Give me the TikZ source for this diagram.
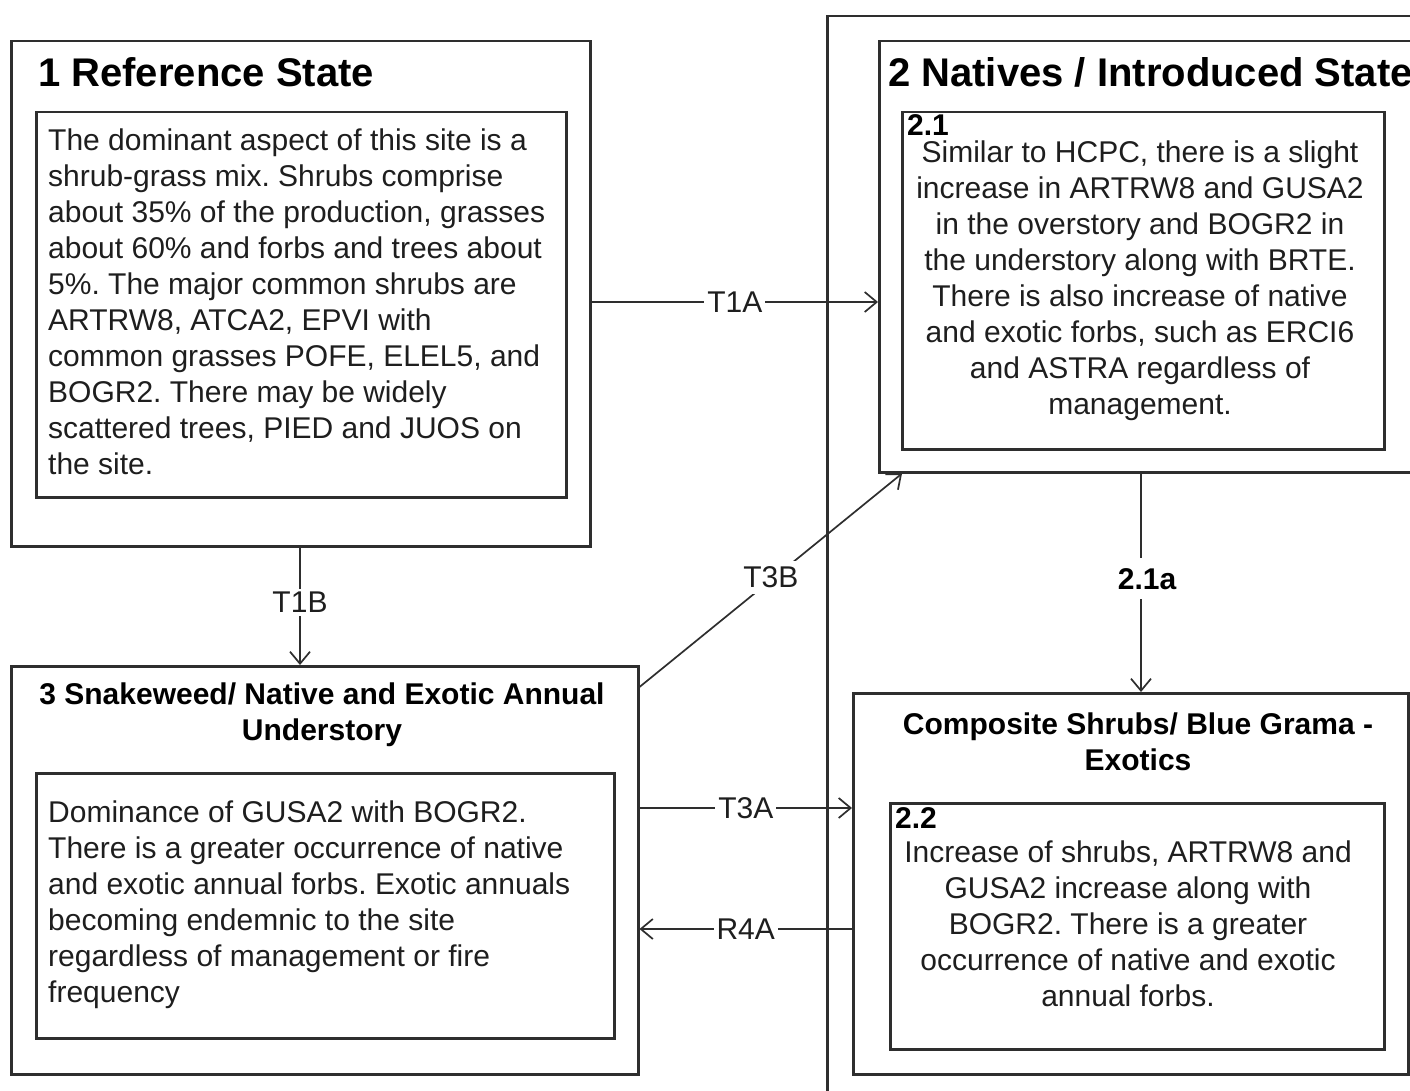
\documentclass[tikz,border=0pt]{standalone}
\usepackage{fontspec}
\setmainfont{Liberation Sans}
\usetikzlibrary{arrows.meta}
\definecolor{ln}{HTML}{2E2E2E}
\definecolor{tx}{HTML}{1E1E1E}
\frenchspacing
\begin{document}
\frenchspacing
\begin{tikzpicture}[x=1pt,y=-1pt,
  box/.style={draw=ln, line width=2.5pt, anchor=north west, inner sep=0pt},
  body/.style={text=tx, inner sep=0pt, font=\fontsize{30}{36}\selectfont},
  ttl/.style={text=black, inner sep=0pt, anchor=north west, font=\fontsize{40}{46}\selectfont\bfseries},
  sub/.style={text=black, inner sep=0pt, align=center, anchor=north, font=\fontsize{30}{36}\selectfont\bfseries},
  num/.style={text=black, inner sep=0pt, anchor=north west, font=\fontsize{30}{36}\selectfont\bfseries},
  lbl/.style={fill=white, text=tx, inner sep=3pt, font=\fontsize{30}{36}\selectfont},
  arr/.style={draw=ln, line width=1.7pt, -{Straight Barb[length=12pt,width=20pt]}}]
\useasboundingbox (0,0) rectangle (1410,1091);
\fill[white] (0,0) rectangle (1410,1091);
\clip (0,0) rectangle (1410,1091);

% state 1
\node[box, minimum width=579pt, minimum height=505pt] (b1) at (10,40) {};
\node[box, minimum width=530pt, minimum height=385pt] (b1in) at (35,111) {};
\node[ttl] (t1) at (38,57) {1 Reference State};
\node[body, anchor=north west, align=left] (x1) at (48,129) {The dominant aspect of this site is a\\
shrub-grass mix. Shrubs comprise\\
about 35\% of the production, grasses\\
about 60\% and forbs and trees about\\
5\%. The major common shrubs are\\
ARTRW8, ATCA2, EPVI with\\
common grasses POFE, ELEL5, and\\
BOGR2. There may be widely\\
scattered trees, PIED and JUOS on\\
the site.};

% state 2
\node[box, minimum width=700pt, minimum height=1150pt] (o2) at (826,15) {};
\node[box, minimum width=600pt, minimum height=431pt] (s2) at (878,40) {};
\node[ttl] (t2) at (888,57) {2 Natives / Introduced State};
\node[box, minimum width=482pt, minimum height=337pt] (s21) at (901,111) {};
\node[num] (n21) at (907,114) {2.1};
\node[body, anchor=north, align=center] (x21) at (1140,141) {Similar to HCPC, there is a slight\\
increase in ARTRW8 and GUSA2\\
in the overstory and BOGR2 in\\
the understory along with BRTE.\\
There is also increase of native\\
and exotic forbs, such as ERCI6\\
and ASTRA regardless of\\
management.};

\node[box, minimum width=555pt, minimum height=381pt] (s22o) at (852,692) {};
\node[sub] (t22) at (1138,713) {Composite Shrubs/ Blue Grama -\\Exotics};
\node[box, minimum width=494pt, minimum height=246pt] (s22) at (889,802) {};
\node[num] (n22) at (895,807) {2.2};
\node[body, anchor=north, align=center] (x22) at (1128,841) {Increase of shrubs, ARTRW8 and\\
GUSA2 increase along with\\
BOGR2. There is a greater\\
occurrence of native and exotic\\
annual forbs.};

% state 3
\node[box, minimum width=627pt, minimum height=408pt] (b3) at (10,665) {};
\node[sub] (t3) at (322,683) {3 Snakeweed/ Native and Exotic Annual\\Understory};
\node[box, minimum width=578pt, minimum height=265pt] (b3in) at (35,772) {};
\node[body, anchor=north west, align=left] (x3) at (48,801) {Dominance of GUSA2 with BOGR2.\\
There is a greater occurrence of native\\
and exotic annual forbs. Exotic annuals\\
becoming endemnic to the site\\
regardless of management or fire\\
frequency};

% transitions
\draw[arr] (b1.east |- 0,302) -- node[lbl] {T1A} (s2.west |- 0,302);
\draw[arr] (b1.south -| 300,0) -- node[lbl, yshift=4pt] {T1B} (b3.north -| 300,0);
\draw[arr] (b3.east |- 0,687) -- node[lbl, inner sep=6pt, yshift=3pt] {T3B} (s2.south -| 902,0);
\draw[arr] (s2.south -| 1141,0) -- node[lbl, inner sep=10pt, xshift=6pt, yshift=4pt, text=black, font=\fontsize{30}{36}\selectfont\bfseries] {2.1a} (s22o.north -| 1141,0);
\draw[arr] (b3.east |- 0,808) -- node[lbl] {T3A} (s22o.west |- 0,808);
\draw[arr] (s22o.west |- 0,929) -- node[lbl] {R4A} (b3.east |- 0,929);
\end{tikzpicture}
\end{document}
